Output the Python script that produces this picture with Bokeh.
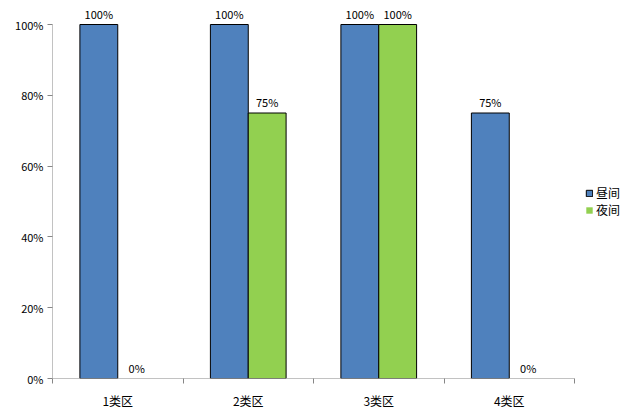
from bokeh.plotting import figure
from bokeh.models import FixedTicker, Legend, LegendItem, ColumnDataSource, Range1d, NumeralTickFormatter, LabelSet
from bokeh.core.properties import value
from bokeh.embed import file_html
from bokeh.resources import INLINE

categories = ["1类区", "2类区", "3类区", "4类区"]
series_names = ["昼间", "夜间"]
day_values = [1.00, 1.00, 1.00, 0.75]
night_values = [0.00, 0.75, 1.00, 0.00]
y_ticks = [0, 0.2, 0.4, 0.6, 0.8, 1.0]
y_max = 1.0

colors = ["#4F81BD", "#92D050"]
bar_w = 0.29
font = "Noto Sans CJK SC"
axis_color = "#868686"

W, H = 640, 417
left, bottom = 52, 39
axis_top, axis_right = 24, 574          # where 100% and the last category edge sit
frame_w, frame_h = W - left, H - bottom
x_end = len(categories) * frame_w / (axis_right - left)
y_end = y_max * frame_h / (H - bottom - axis_top)

p = figure(width=W, height=H, output_backend="svg", toolbar_location=None,
           x_range=Range1d(0, x_end), y_range=Range1d(0, y_end),
           min_border_left=left, min_border_right=0, min_border_top=0, min_border_bottom=bottom)
p.outline_line_color = None
p.grid.visible = False
p.background_fill_color = "white"

centers = [i + 0.5 for i in range(len(categories))]
renderers = []
for k, vals in enumerate([day_values, night_values]):
    xs = [c + (k - 0.5) * bar_w for c in centers]
    src = ColumnDataSource(dict(x=xs, top=vals,
                                la=[1 if v > 0 else 0 for v in vals],
                                label=[f"{round(v*100)}%" for v in vals]))
    r = p.vbar(x="x", top="top", width=bar_w, source=src, fill_color=colors[k],
               line_color="black", line_alpha="la", line_width=1)
    renderers.append(r)
    p.add_layout(LabelSet(x="x", y="top", text="label", source=src, text_align="center",
                          text_baseline="bottom", y_offset=3, text_font=value(font),
                          text_font_size=value("11px"), text_color="black"))

# axis lines limited to the data extent
p.segment(x0=[0, 0], y0=[0, 0], x1=[len(categories), 0], y1=[0, y_max],
          line_color=axis_color, line_width=1)

xa = p.xaxis[0]
xa.ticker = FixedTicker(ticks=centers, minor_ticks=list(range(len(categories) + 1)))
xa.major_label_overrides = {c: cat for c, cat in zip(centers, categories)}
xa.major_tick_out = 0
xa.major_tick_in = 0
xa.minor_tick_out = 5
xa.minor_tick_in = 0
xa.minor_tick_line_color = axis_color
xa.axis_line_color = None
xa.major_label_text_font = font
xa.major_label_text_font_size = "12px"
xa.major_label_text_color = "black"
xa.major_label_standoff = 8

ya = p.yaxis[0]
ya.ticker = FixedTicker(ticks=y_ticks, minor_ticks=[])
ya.formatter = NumeralTickFormatter(format="0%")
ya.major_tick_out = 5
ya.major_tick_in = 0
ya.major_tick_line_color = axis_color
ya.axis_line_color = None
ya.major_label_text_font = font
ya.major_label_text_font_size = "11px"
ya.major_label_text_color = "black"
ya.major_label_standoff = 4

legend = Legend(items=[LegendItem(label=n, renderers=[r]) for n, r in zip(series_names, renderers)],
                location=(533, 160), border_line_color=None, background_fill_alpha=0,
                glyph_width=8, glyph_height=8, label_height=16, spacing=0, padding=0,
                margin=0, label_text_font=font, label_text_font_size="12px",
                label_text_color="black", label_standoff=3)
p.add_layout(legend, "center")

open("out.html", "w").write(file_html(p, INLINE))
